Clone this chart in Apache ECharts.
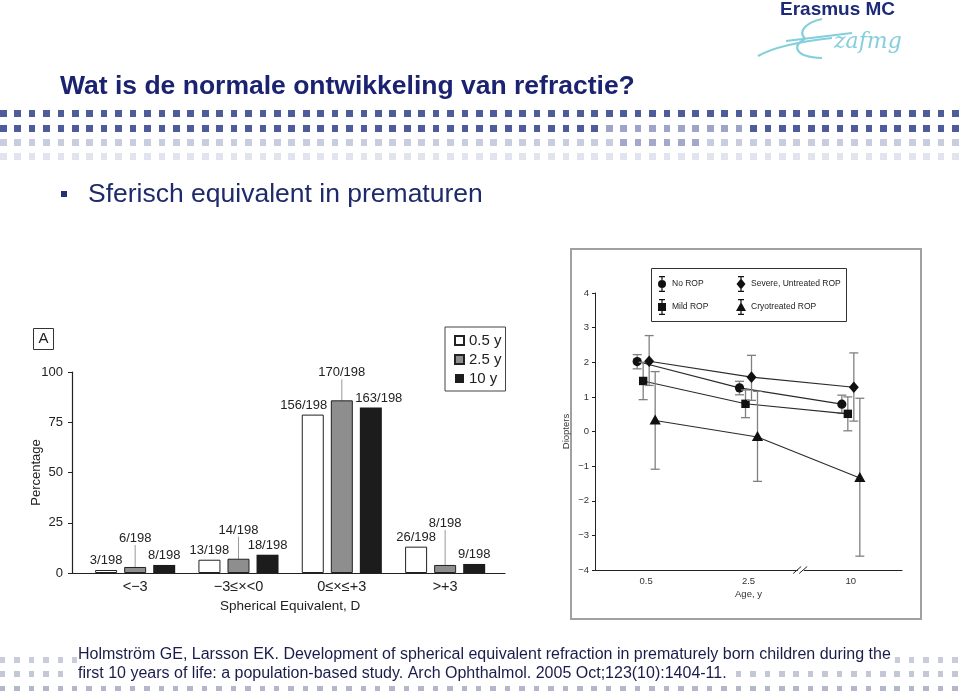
<!DOCTYPE html>
<html>
<head>
<meta charset="utf-8">
<script src="https://cdn.jsdelivr.net/npm/echarts@6/dist/echarts.min.js"></script>
<style>
  html, body { margin: 0; padding: 0; background: #fff; }
  #wrap { position: relative; width: 960px; height: 697px; overflow: hidden; background: #fff; }
  #deco { position: absolute; left: 0; top: 0; width: 960px; height: 697px; }
  #chart { position: absolute; left: 0; top: 0; width: 960px; height: 697px; }
  .sq { position: absolute; }
</style>
</head>
<body>
<div id="wrap">
  <div id="deco"></div>
  <div id="chart"></div>
</div>
<script>
// ---------- Data: left chart (percentage per spherical-equivalent class) ----------
const barCategories = ['<−3', '−3≤×<0', '0≤×≤+3', '>+3'];
const ageNames = ['0.5 y', '2.5 y', '10 y'];
const pct05 = [1.5, 6.6, 78.8, 13.1];
const pct25 = [3.0, 7.1, 85.9, 4.0];
const pct10 = [4.0, 9.1, 82.3, 4.5];
const lbl05 = ['3/198', '13/198', '156/198', '26/198'];
const lbl25 = ['6/198', '14/198', '170/198', '8/198'];
const lbl10 = ['8/198', '18/198', '163/198', '9/198'];

// ---------- Data: right chart (diopters by age, mean and error bars) ----------
const ageCategories = ['0.5', '2.5', '10'];
const groupNames = ['No ROP', 'Mild ROP', 'Severe, Untreated ROP', 'Cryotreated ROP'];
const noRopMean = [2.02, 1.26, 0.79];
const noRopLow = [1.81, 1.06, 0.53];
const noRopHigh = [2.22, 1.45, 1.05];
const mildMean = [1.46, 0.80, 0.51];
const mildLow = [0.92, 0.40, 0.02];
const mildHigh = [2.00, 1.20, 1.00];
const severeMean = [2.03, 1.57, 1.28];
const severeLow = [1.33, 0.90, 0.30];
const severeHigh = [2.77, 2.20, 2.27];
const cryoMean = [0.32, -0.16, -1.34];
const cryoLow = [-1.09, -1.44, -3.60];
const cryoHigh = [1.73, 1.16, 0.96];

// ---------- Layout / style (not data) ----------
const FONT = "'Liberation Sans Narrow', 'Arial Narrow', 'Liberation Sans', Arial, sans-serif";
const NAVY = '#1b2270';
const lblDx05 = [0, 0, -9, 0];
const lblDx10 = [0, 0, 8, 0];
const lblDy25 = [-19, -19, -18, -32];
const pointOffsets = [-9, -3, 3, 9];

// ---------- Decorative square rows ----------
(function () {
  const deco = document.getElementById('deco');
  const pitch = 14.43;
  const rows = [
    { y: 110, h: 7, w: 6.7, color: '#4e5c9c', seg: null },
    { y: 125, h: 7, w: 6.7, color: '#4e5c9c', seg: [42, 51, '#9ea5c8'] },
    { y: 139, h: 7, w: 6.7, color: '#c9cde0', seg: [43, 48, '#a3a9ca'] },
    { y: 153, h: 7, w: 6.7, color: '#e1e3ee', seg: null },
    { y: 657, h: 5.5, w: 5.5, color: '#c9ccda', seg: null },
    { y: 671, h: 5.5, w: 5.5, color: '#c4c7d6', seg: null },
    { y: 685.5, h: 5.5, w: 5.5, color: '#b3b7cb', seg: null }
  ];
  rows.forEach(r => {
    for (let k = 0; k < 67; k++) {
      const d = document.createElement('div');
      d.className = 'sq';
      let c = r.color;
      if (r.seg && k >= r.seg[0] && k <= r.seg[1]) c = r.seg[2];
      d.style.left = (k * pitch - 0.2) + 'px';
      d.style.top = r.y + 'px';
      d.style.width = r.w + 'px';
      d.style.height = r.h + 'px';
      d.style.background = c;
      deco.appendChild(d);
    }
  });
})();

// ---------- Helpers for the right chart ----------
function renderFactory(mean, low, high, off, shape) {
  return function (params, api) {
    const i = params.dataIndex;
    const p = api.coord([i, mean[i]]);
    const x = p[0] + off, y = p[1];
    const t = api.coord([i, high[i]]);
    const b = api.coord([i, low[i]]);
    const children = [];
    if (i < mean.length - 1) {
      const q = api.coord([i + 1, mean[i + 1]]);
      children.push({ type: 'line', shape: { x1: x, y1: y, x2: q[0] + off, y2: q[1] },
        style: { stroke: '#2a2a2a', lineWidth: 1.1 } });
    }
    const eb = { stroke: '#808080', lineWidth: 1.3 };
    children.push({ type: 'line', shape: { x1: x, y1: t[1], x2: x, y2: b[1] }, style: eb });
    children.push({ type: 'line', shape: { x1: x - 4.5, y1: t[1], x2: x + 4.5, y2: t[1] }, style: eb });
    children.push({ type: 'line', shape: { x1: x - 4.5, y1: b[1], x2: x + 4.5, y2: b[1] }, style: eb });
    const fill = { fill: '#111' };
    if (shape === 'circle') children.push({ type: 'circle', shape: { cx: x, cy: y, r: 4.6 }, style: fill });
    if (shape === 'square') children.push({ type: 'rect', shape: { x: x - 4.2, y: y - 4.2, width: 8.4, height: 8.4 }, style: fill });
    if (shape === 'diamond') children.push({ type: 'polygon', shape: { points: [[x, y - 5.8], [x + 5, y], [x, y + 5.8], [x - 5, y]] }, style: fill });
    if (shape === 'triangle') children.push({ type: 'polygon', shape: { points: [[x, y - 6], [x + 5.6, y + 4], [x - 5.6, y + 4]] }, style: fill });
    return { type: 'group', children: children };
  };
}

function breakRender(params, api) {
  const a = api.coord([1, -4]);
  const c = api.coord([2, -4]);
  const mx = (a[0] + c[0]) / 2, my = a[1];
  return {
    type: 'group',
    children: [
      { type: 'polygon', shape: { points: [[mx - 3.5, my + 3.5], [mx + 2.5, my + 3.5], [mx + 6.5, my - 3.5], [mx + 0.5, my - 3.5]] }, style: { fill: '#fff' } },
      { type: 'line', shape: { x1: mx - 6.5, y1: my + 3.5, x2: mx + 1.5, y2: my - 3.5 }, style: { stroke: '#222', lineWidth: 1 } },
      { type: 'line', shape: { x1: mx - 0.5, y1: my + 3.5, x2: mx + 7.5, y2: my - 3.5 }, style: { stroke: '#222', lineWidth: 1 } }
    ]
  };
}

const barIcon = 'M2 0H8V1.2H2Z M2 14.8H8V16H2Z M4.4 0H5.6V16H4.4Z ';
const icons = {
  'No ROP': 'path://' + barIcon + 'M1 8A4 4 0 1 1 9 8A4 4 0 1 1 1 8Z',
  'Mild ROP': 'path://' + barIcon + 'M1 4H9V12H1Z',
  'Severe, Untreated ROP': 'path://' + barIcon + 'M5 2.5L9.5 8L5 13.5L0.5 8Z',
  'Cryotreated ROP': 'path://' + barIcon + 'M5 3L10 12H0Z'
};

function customSeries(name, mean, low, high, off, shape) {
  return {
    name: name, type: 'custom', xAxisIndex: 1, yAxisIndex: 1,
    itemStyle: { color: '#111' },
    renderItem: renderFactory(mean, low, high, off, shape),
    encode: { x: 0, y: [1, 2, 3] },
    data: mean.map((v, i) => [i, v, low[i], high[i]]),
    silent: true
  };
}

function barSeries(name, values, labels, color, border, dxArr, dyArr, leader) {
  return {
    name: name, type: 'bar', xAxisIndex: 0, yAxisIndex: 0,
    barWidth: 22, barGap: '32%',
    itemStyle: { color: color, borderColor: border || color, borderWidth: border ? 1 : 0 },
    data: values,
    label: {
      show: true, position: 'top', distance: 3,
      fontFamily: FONT, fontSize: 13, color: '#222',
      formatter: p => labels[p.dataIndex]
    },
    labelLayout: function (p) {
      return { dx: dxArr ? dxArr[p.dataIndex] : 0, dy: dyArr ? dyArr[p.dataIndex] : 0 };
    },
    labelLine: { show: !!leader, lineStyle: { color: '#999', width: 1 } },
    silent: true
  };
}

const chart = echarts.init(document.getElementById('chart'), null, { renderer: 'canvas' });

const option = {
  animation: false,
  textStyle: { fontFamily: FONT },
  grid: [
    { left: 83.5, top: 372, width: 413.3, height: 201 },
    { left: 595, top: 293, width: 307, height: 277 },
    { left: 72, top: 372, width: 433, height: 201 }
  ],
  xAxis: [
    { type: 'category', gridIndex: 0, data: barCategories,
      axisLine: { show: false }, axisTick: { show: false },
      axisLabel: { color: '#222', fontSize: 14.5, margin: 6, fontFamily: FONT },
      name: 'Spherical Equivalent, D', nameLocation: 'middle', nameGap: 26,
      nameTextStyle: { color: '#222', fontSize: 13.5, fontFamily: FONT } },
    { type: 'category', gridIndex: 1, data: ageCategories,
      axisLine: { onZero: false, lineStyle: { color: '#222', width: 1 } }, axisTick: { show: false },
      axisLabel: { color: '#333', fontSize: 9.5, margin: 6, fontFamily: FONT },
      name: 'Age, y', nameLocation: 'middle', nameGap: 19,
      nameTextStyle: { color: '#333', fontSize: 9.5, fontFamily: FONT } },
    { type: 'value', gridIndex: 2, min: 0, max: 1,
      axisLine: { show: true, onZero: false, lineStyle: { color: '#222', width: 1.2 } },
      axisTick: { show: false }, axisLabel: { show: false }, splitLine: { show: false } }
  ],
  yAxis: [
    { type: 'value', gridIndex: 0, min: 0, max: 100, interval: 25, show: false },
    { type: 'value', gridIndex: 1, min: -4, max: 4, interval: 1,
      axisLine: { show: true, onZero: false, lineStyle: { color: '#222', width: 1 } },
      axisTick: { show: true, length: 3, lineStyle: { color: '#222' } },
      axisLabel: { color: '#333', fontSize: 9.5, margin: 6, fontFamily: FONT,
        formatter: v => String(v).replace('-', '−') },
      splitLine: { show: false },
      name: 'Diopters', nameLocation: 'middle', nameGap: 24, nameRotate: 90, nameMoveOverlap: false,
      nameTextStyle: { color: '#333', fontSize: 9.5, fontFamily: FONT } },
    { type: 'value', gridIndex: 2, min: 0, max: 100, interval: 25,
      axisLine: { show: true, onZero: false, lineStyle: { color: '#222', width: 1.2 } },
      axisTick: { show: true, length: 4, lineStyle: { color: '#222' } },
      axisLabel: { color: '#222', fontSize: 13, margin: 9, fontFamily: FONT },
      splitLine: { show: false },
      name: 'Percentage', nameLocation: 'middle', nameGap: 29, nameRotate: 90, nameMoveOverlap: false,
      nameTextStyle: { color: '#222', fontSize: 13, fontFamily: FONT } }
  ],
  legend: [
    { data: ageNames, orient: 'vertical', left: 445, top: 327,
      borderColor: '#444', borderWidth: 1, padding: [6, 4, 5, 9],
      itemWidth: 9, itemHeight: 9, itemGap: 4, icon: 'rect', selectedMode: false,
      textStyle: { fontSize: 15, lineHeight: 15, color: '#222', fontFamily: FONT } },
    { data: [{ name: 'No ROP', icon: icons['No ROP'] }, { name: 'Mild ROP', icon: icons['Mild ROP'] }],
      orient: 'vertical', left: 653, top: 271, itemWidth: 10, itemHeight: 16, itemGap: 7, itemGap: 7,
      selectedMode: false, textStyle: { fontSize: 8.5, color: '#222', fontFamily: FONT } },
    { data: [{ name: 'Severe, Untreated ROP', icon: icons['Severe, Untreated ROP'] }, { name: 'Cryotreated ROP', icon: icons['Cryotreated ROP'] }],
      orient: 'vertical', left: 731, top: 271, itemWidth: 10, itemHeight: 16, itemGap: 7,
      selectedMode: false, textStyle: { fontSize: 8.5, color: '#222', fontFamily: FONT } }
  ],
  series: [
    barSeries(ageNames[0], pct05, lbl05, '#ffffff', '#222', lblDx05, null, false),
    barSeries(ageNames[1], pct25, lbl25, '#8e8e8e', '#222', null, lblDy25, true),
    barSeries(ageNames[2], pct10, lbl10, '#1c1c1c', null, lblDx10, null, false),
    customSeries(groupNames[0], noRopMean, noRopLow, noRopHigh, pointOffsets[0], 'circle'),
    customSeries(groupNames[1], mildMean, mildLow, mildHigh, pointOffsets[1], 'square'),
    customSeries(groupNames[2], severeMean, severeLow, severeHigh, pointOffsets[2], 'diamond'),
    customSeries(groupNames[3], cryoMean, cryoLow, cryoHigh, pointOffsets[3], 'triangle'),
    { type: 'custom', xAxisIndex: 1, yAxisIndex: 1, renderItem: breakRender, data: [[0]], silent: true, z: 5 }
  ],
  graphic: [
    // Title and bullet
    { type: 'text', x: 60, y: 87, style: { text: 'Wat is de normale ontwikkeling van refractie?', font: "bold 26.5px 'Liberation Sans', Arial, sans-serif", fill: NAVY, verticalAlign: 'middle' } },
    { type: 'rect', shape: { x: 61, y: 191, width: 6, height: 6 }, style: { fill: '#27306f' } },
    { type: 'text', x: 88, y: 195, style: { text: 'Sferisch equivalent in prematuren', font: "26.5px 'Liberation Sans', Arial, sans-serif", fill: '#1f2a6b', verticalAlign: 'middle' } },
    // Logo
    { type: 'text', x: 780, y: 10, style: { text: 'Erasmus MC', font: "bold 19px 'Liberation Sans', Arial, sans-serif", fill: '#1d2a78', verticalAlign: 'middle' } },
    { type: 'bezierCurve', shape: { x1: 758, y1: 56, cpx1: 772, cpy1: 48, cpx2: 795, cpy2: 42, x2: 832, y2: 38 }, style: { stroke: '#84cfdc', lineWidth: 2.2, fill: null } },
    { type: 'line', shape: { x1: 786, y1: 41, x2: 852, y2: 33 }, style: { stroke: '#84cfdc', lineWidth: 2 } },
    { type: 'bezierCurve', shape: { x1: 822, y1: 19, cpx1: 808, cpy1: 22, cpx2: 797, cpy2: 30, x2: 805, y2: 39 }, style: { stroke: '#84cfdc', lineWidth: 2.2, fill: null } },
    { type: 'bezierCurve', shape: { x1: 805, y1: 39, cpx1: 793, cpy1: 44, cpx2: 792, cpy2: 57, x2: 822, y2: 58 }, style: { stroke: '#84cfdc', lineWidth: 2.2, fill: null } },
    { type: 'text', x: 834, y: 42, style: { text: 'zafmg', font: "italic 22px 'DejaVu Serif', serif", fill: '#84cfdc', verticalAlign: 'middle' } },
    // Panel A label
    { type: 'rect', shape: { x: 33.5, y: 328.5, width: 20, height: 21 }, style: { fill: '#fff', stroke: '#333', lineWidth: 1 } },
    { type: 'text', x: 43.5, y: 339, style: { text: 'A', font: "15px " + FONT, fill: '#222', align: 'center', verticalAlign: 'middle' } },
    // Right figure frame and legend box
    { type: 'rect', shape: { x: 571, y: 249, width: 350, height: 370 }, style: { fill: null, stroke: '#a0a0a0', lineWidth: 2 } },
    { type: 'rect', shape: { x: 651.5, y: 268.5, width: 195, height: 53 }, style: { fill: null, stroke: '#333', lineWidth: 1 } },
    // Citation
    { type: 'text', x: 77, y: 655, style: { text: 'Holmström GE, Larsson EK. Development of spherical equivalent refraction in prematurely born children during the',
      font: "16px 'Liberation Sans', Arial, sans-serif", fill: '#1a1d4a', verticalAlign: 'middle', backgroundColor: '#fff', padding: [2, 4, 2, 1] } },
    { type: 'text', x: 71, y: 674, style: { text: 'first 10 years of life: a population-based study. Arch Ophthalmol. 2005 Oct;123(10):1404-11.',
      font: "16px 'Liberation Sans', Arial, sans-serif", fill: '#1a1d4a', verticalAlign: 'middle', backgroundColor: '#fff', padding: [2, 6, 2, 7] } }
  ]
};

chart.setOption(option);
</script>
</body>
</html>
